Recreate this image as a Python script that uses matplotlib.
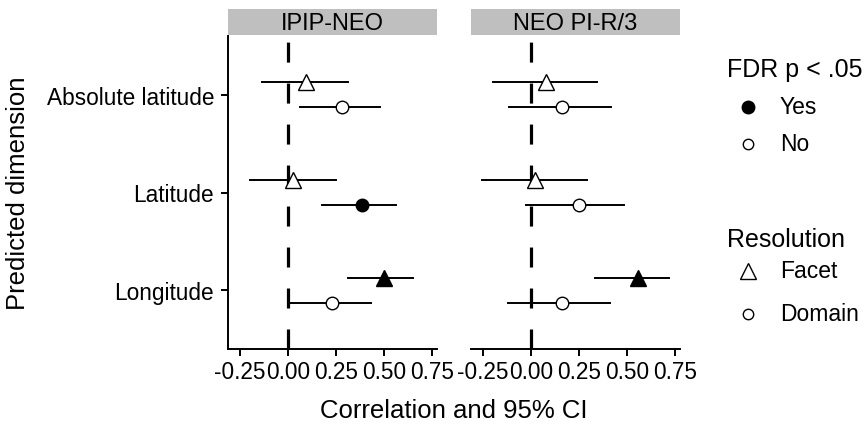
import matplotlib
matplotlib.use("Agg")
import matplotlib.pyplot as plt
from matplotlib.lines import Line2D

plt.rcParams['font.family'] = ['Liberation Sans', 'DejaVu Sans']

panels = ["IPIP-NEO", "NEO PI-R/3"]
dimensions = ["Absolute latitude", "Latitude", "Longitude"]
resolutions = ["Facet", "Domain"]

# estimates [panel][resolution][dimension]
est = {
    "IPIP-NEO": {"Facet": [0.094, 0.026, 0.502], "Domain": [0.283, 0.387, 0.229]},
    "NEO PI-R/3": {"Facet": [0.079, 0.022, 0.557], "Domain": [0.162, 0.250, 0.159]},
}
lo = {
    "IPIP-NEO": {"Facet": [-0.134, -0.200, 0.311], "Domain": [0.062, 0.177, 0.002]},
    "NEO PI-R/3": {"Facet": [-0.199, -0.253, 0.333], "Domain": [-0.116, -0.028, -0.121]},
}
hi = {
    "IPIP-NEO": {"Facet": [0.311, 0.248, 0.653], "Domain": [0.478, 0.561, 0.430]},
    "NEO PI-R/3": {"Facet": [0.345, 0.293, 0.717], "Domain": [0.417, 0.486, 0.414]},
}
sig = {
    "IPIP-NEO": {"Facet": [False, False, True], "Domain": [False, True, False]},
    "NEO PI-R/3": {"Facet": [False, False, True], "Domain": [False, False, False]},
}
xticks = [-0.25, 0.0, 0.25, 0.5, 0.75]
xticklabels = ["-0.25", "0.00", "0.25", "0.50", "0.75"]
sig_labels = ["Yes", "No"]
res_labels = ["Facet", "Domain"]

W, H = 867, 431
fig = plt.figure(figsize=(W / 100, H / 100), dpi=100)

def fx(px):
    return px / W

def fy(py):
    return 1 - py / H

ax_boxes = [(228, 437), (471, 680)]
top, bottom = 37, 350
markers = {"Facet": "^", "Domain": "o"}
msize = {"Facet": 12, "Domain": 9}
offset = {"Facet": -0.13, "Domain": 0.13}
TICK_FS = 16.3

for i, (p, (l, r)) in enumerate(zip(panels, ax_boxes)):
    ax = fig.add_axes([fx(l), fy(bottom), fx(r) - fx(l), fy(top) - fy(bottom)])
    ax.set_xlim(-0.3125, 0.776)
    ax.set_ylim(2.6, -0.6)
    ax.axvline(0, color="black", lw=2.3, ls=(0, (6.26, 6.57)), zorder=1)
    for res in resolutions:
        for j, d in enumerate(dimensions):
            y = j + offset[res]
            ax.plot([lo[p][res][j], hi[p][res][j]], [y, y], color="black", lw=1.4, zorder=2)
            filled = sig[p][res][j]
            ax.plot(est[p][res][j], y, marker=markers[res], ms=msize[res],
                    mfc="black" if filled else "white", mec="black", mew=1.0,
                    ls="none", zorder=3)
    ax.set_xticks(xticks)
    ax.set_xticklabels(xticklabels, fontsize=TICK_FS)
    ax.set_yticks(range(len(dimensions)))
    for s in ["top", "right"]:
        ax.spines[s].set_visible(False)
    ax.spines["bottom"].set_linewidth(1.4)
    ax.spines["left"].set_linewidth(1.4)
    ax.tick_params(axis="both", width=1.4, length=5, color="black", pad=3)
    if i == 0:
        ax.set_yticklabels(dimensions, fontsize=TICK_FS)
        ax.tick_params(axis="y", pad=5)
    else:
        ax.spines["left"].set_visible(False)
        ax.tick_params(axis="y", left=False, labelleft=False)
    # strip
    strip = fig.add_axes([fx(l), fy(36), fx(r) - fx(l), fy(10) - fy(36)])
    strip.set_facecolor("#bfbfbf")
    strip.set_xticks([])
    strip.set_yticks([])
    for s in strip.spines.values():
        s.set_visible(False)
    strip.text(0.5, 0.45, p, ha="center", va="center", fontsize=17, transform=strip.transAxes)

fig.text(fx(454), fy(411), "Correlation and 95% CI", ha="center", va="center", fontsize=18.5)
fig.text(fx(18), fy(193), "Predicted dimension", ha="center", va="center", rotation=90, fontsize=18.5)

# legends (drawn in figure pixel layout)
def legend_entry(py, marker, filled, label, ms):
    fig.add_artist(Line2D([fx(748)], [fy(py)], transform=fig.transFigure, marker=marker,
                          ls="none", mfc="black" if filled else "white", mec="black",
                          ms=ms, mew=1.0))
    fig.text(fx(780), fy(py), label, ha="left", va="center", fontsize=16.5)

fig.text(fx(727), fy(70), "FDR p < .05", ha="left", va="center", fontsize=18)
legend_entry(108, "o", True, sig_labels[0], 9)
legend_entry(145, "o", False, sig_labels[1], 7.5)
fig.text(fx(727), fy(240), "Resolution", ha="left", va="center", fontsize=18)
legend_entry(272, "^", False, res_labels[0], 12)
legend_entry(315, "o", False, res_labels[1], 7.5)

fig.savefig("out.png", dpi=100)
